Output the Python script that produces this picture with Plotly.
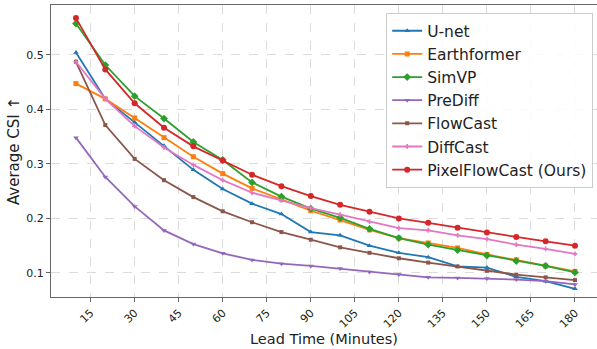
import plotly.graph_objects as go

lead_time = [10, 20, 30, 40, 50, 60, 70, 80, 90, 100, 110, 120, 130, 140, 150, 160, 170, 180]

unet = [0.504, 0.419, 0.376, 0.333, 0.289, 0.254, 0.227, 0.208, 0.175, 0.169, 0.150, 0.137, 0.129, 0.112, 0.110, 0.093, 0.085, 0.071]
earthformer = [0.447, 0.419, 0.384, 0.348, 0.313, 0.282, 0.255, 0.235, 0.214, 0.197, 0.179, 0.164, 0.155, 0.146, 0.134, 0.124, 0.113, 0.103]
simvp = [0.557, 0.481, 0.424, 0.383, 0.340, 0.307, 0.266, 0.240, 0.218, 0.201, 0.181, 0.164, 0.152, 0.142, 0.132, 0.122, 0.113, 0.101]
prediff = [0.348, 0.276, 0.222, 0.178, 0.153, 0.136, 0.124, 0.117, 0.113, 0.108, 0.102, 0.097, 0.092, 0.091, 0.090, 0.088, 0.085, 0.079]
flowcast = [0.487, 0.371, 0.309, 0.270, 0.239, 0.213, 0.193, 0.175, 0.161, 0.147, 0.137, 0.127, 0.119, 0.112, 0.104, 0.097, 0.092, 0.087]
diffcast = [0.487, 0.419, 0.369, 0.330, 0.298, 0.270, 0.247, 0.233, 0.219, 0.207, 0.194, 0.182, 0.178, 0.169, 0.162, 0.152, 0.144, 0.135]
pixelflowcast = [0.567, 0.473, 0.411, 0.366, 0.332, 0.306, 0.280, 0.259, 0.241, 0.225, 0.212, 0.200, 0.192, 0.183, 0.174, 0.166, 0.158, 0.150]

x_ticks = [15, 30, 45, 60, 75, 90, 105, 120, 135, 150, 165, 180]
y_ticks = [0.1, 0.2, 0.3, 0.4, 0.5]

series = [
    ("U-net", unet, "#1f77b4", "triangle-up", 5),
    ("Earthformer", earthformer, "#ff7f0e", "square", 5),
    ("SimVP", simvp, "#2ca02c", "diamond", 6),
    ("PreDiff", prediff, "#9467bd", "triangle-down", 5),
    ("FlowCast", flowcast, "#8c564b", "square", 4),
    ("DiffCast", diffcast, "#e377c2", "cross", 4),
    ("PixelFlowCast (Ours)", pixelflowcast, "#d62728", "circle", 6),
]

fig = go.Figure()
for name, vals, color, sym, sz in series:
    fig.add_trace(go.Scatter(
        x=lead_time, y=vals, name=name, mode="lines+markers",
        line=dict(color=color, width=1.8),
        marker=dict(symbol=sym, size=sz, color=color, line=dict(width=0)),
    ))

font_family = "DejaVu Sans"
fig.update_layout(
    width=597, height=349,
    margin=dict(l=51, r=0, t=5, b=52),
    paper_bgcolor="white", plot_bgcolor="white",
    font=dict(family=font_family, color="#222", size=11),
    showlegend=True,
    legend=dict(
        x=0.993, y=0.972, xanchor="right", yanchor="top",
        bgcolor="rgba(255,255,255,0.85)", bordercolor="#cccccc", borderwidth=1,
        font=dict(size=15.5, family=font_family, color="#222"),
        itemwidth=30, tracegroupgap=0,
    ),
    xaxis=dict(
        range=[1.5, 187.5], tickvals=x_ticks, ticktext=[str(v) for v in x_ticks],
        tickangle=-45, ticks="outside", ticklen=4, tickcolor="#666",
        showline=True, linecolor="#666", linewidth=1.2, mirror=True,
        showgrid=True, gridcolor="#dcdcdc", griddash="dash", gridwidth=1,
        zeroline=False,
        title=dict(text="Lead Time (Minutes)", font=dict(size=14.5), standoff=0),
        tickfont=dict(size=11),
    ),
    yaxis=dict(
        range=[0.056, 0.591], tickvals=y_ticks, ticktext=[f"{v:.1f}" for v in y_ticks],
        ticks="outside", ticklen=4, tickcolor="#666",
        showline=True, linecolor="#666", linewidth=1.2, mirror=False,
        showgrid=True, gridcolor="#dcdcdc", griddash="dash", gridwidth=1,
        zeroline=False,
        title=dict(text="Average CSI ↑", font=dict(size=15), standoff=2),
        tickfont=dict(size=11),
    ),
)

fig.write_html("out.html")
